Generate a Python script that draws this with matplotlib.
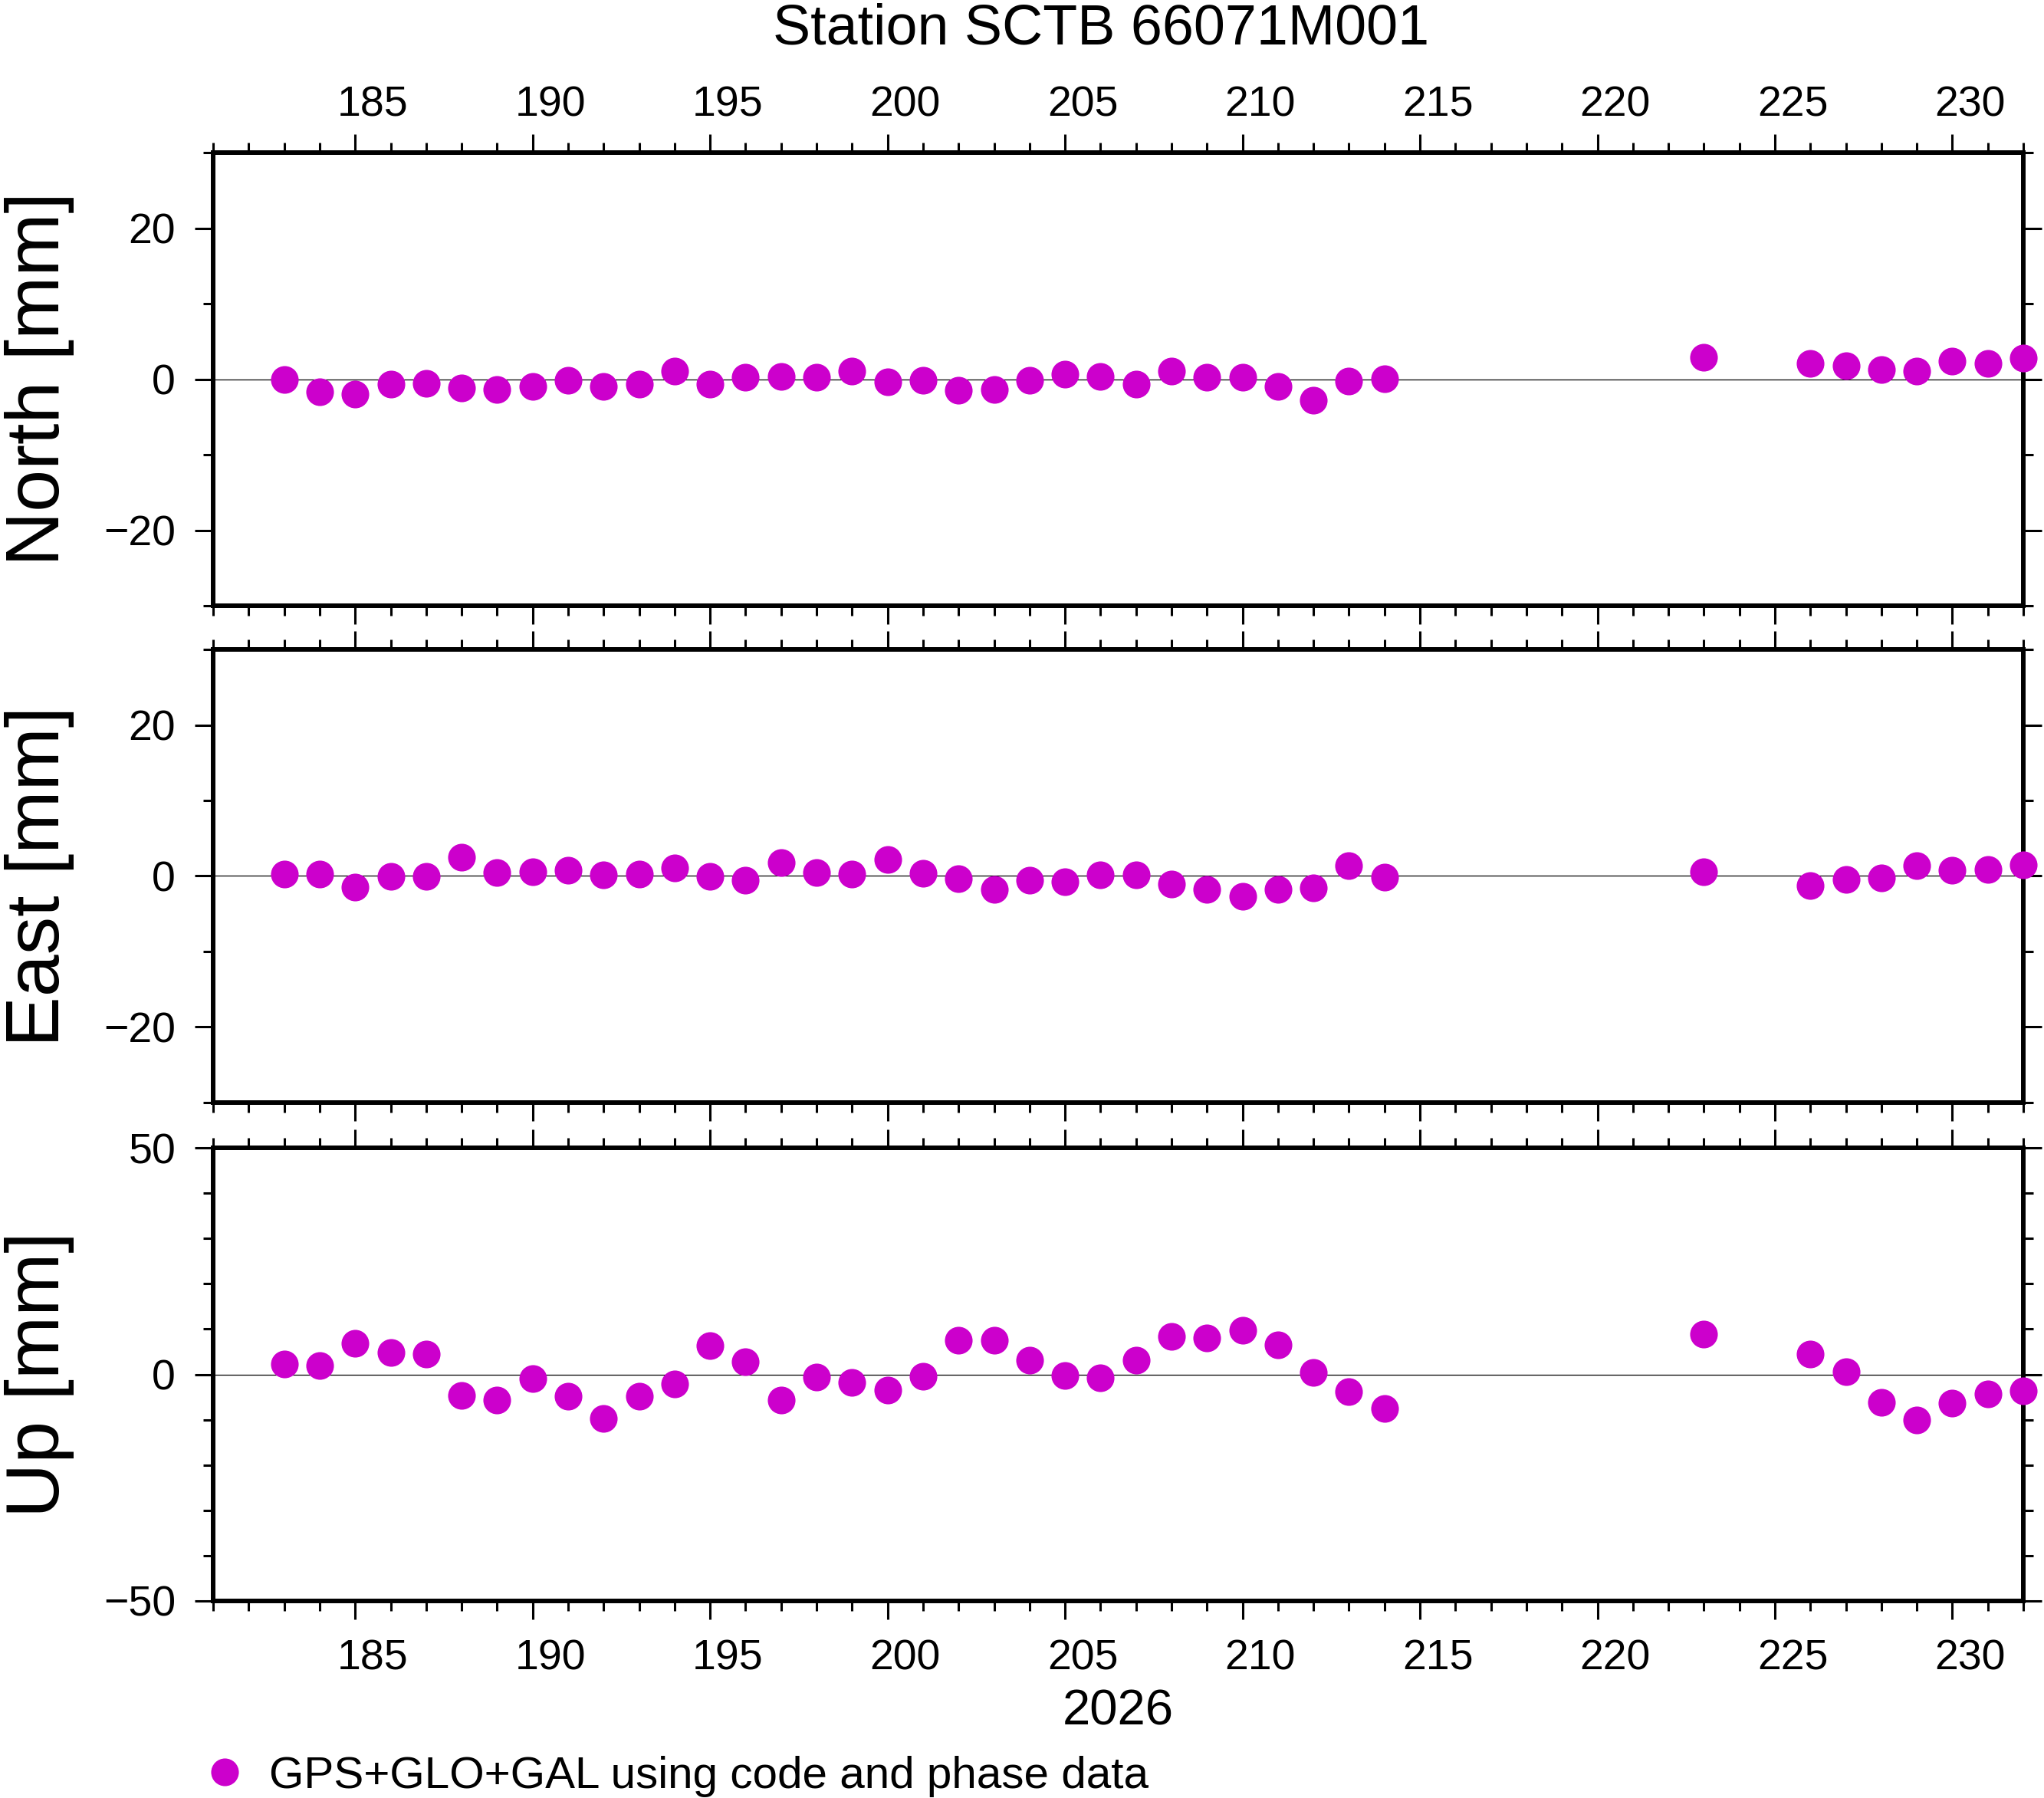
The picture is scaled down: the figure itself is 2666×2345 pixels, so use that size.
import numpy as np
import matplotlib
matplotlib.use("Agg")
import matplotlib.pyplot as plt
from matplotlib.ticker import FixedLocator, MultipleLocator
from matplotlib.transforms import ScaledTranslation

plt.rcParams['font.family'] = ['Liberation Sans', 'DejaVu Sans']

# day of year 2026
days = [183, 184, 185, 186, 187, 188, 189, 190, 191, 192, 193, 194, 195, 196,
        197, 198, 199, 200, 201, 202, 203, 204, 205, 206, 207, 208, 209, 210,
        211, 212, 213, 214, 223, 226, 227, 228, 229, 230, 231, 232]

north = [0.0, -1.7, -2.0, -0.7, -0.6, -1.2, -1.4, -1.0, -0.1, -1.0, -0.7, 1.1,
         -0.7, 0.3, 0.4, 0.3, 1.1, -0.3, -0.1, -1.5, -1.4, -0.1, 0.7, 0.4,
         -0.7, 1.1, 0.3, 0.3, -1.0, -2.8, -0.2, 0.1, 2.9, 2.1, 1.8, 1.3, 1.1,
         2.4, 2.1, 2.8]

east = [0.3, 0.3, -1.5, -0.1, -0.1, 2.5, 0.5, 0.6, 0.8, 0.2, 0.3, 1.1, -0.1,
        -0.6, 1.8, 0.5, 0.3, 2.2, 0.4, -0.4, -1.8, -0.6, -0.8, 0.1, 0.1, -1.1,
        -1.8, -2.7, -1.8, -1.6, 1.4, -0.2, 0.6, -1.3, -0.5, -0.3, 1.4, 0.8,
        0.9, 1.5]

up = [2.3, 1.9, 6.8, 4.9, 4.5, -4.7, -5.7, -0.9, -4.9, -9.7, -4.9, -2.1, 6.3,
      2.8, -5.6, -0.6, -1.7, -3.5, -0.4, 7.6, 7.6, 3.1, -0.2, -0.7, 3.2, 8.4,
      8.0, 9.7, 6.6, 0.5, -3.8, -7.6, 8.9, 4.5, 0.6, -6.2, -10.1, -6.3, -4.3,
      -3.6]

components = ["North [mm]", "East [mm]", "Up [mm]"]
ylims = [30, 30, 50]
ymajor = [20, 20, 50]
xmajor = list(range(185, 231, 5))
legend_label = "GPS+GLO+GAL using code and phase data"
title = "Station SCTB 66071M001"
year = "2026"

col = '#CC00CC'

fig = plt.figure(figsize=(26.66, 23.45), dpi=100)
left, width, height = 0.1043, 0.8856, 0.2520
bottoms = [0.6631, 0.3868, 0.1096]

# day labels sit in the middle of the day
off = ScaledTranslation(0.231, 0, fig.dpi_scale_trans)

for i, (vals, name) in enumerate(zip([north, east, up], components)):
    ax = fig.add_axes([left, bottoms[i], width, height])
    ax.axhline(0, color='black', lw=0.9, zorder=1)
    line, = ax.plot(days, vals, 'o', color=col, markersize=26, mec='none',
                    clip_on=False, zorder=5, label=legend_label)
    ax.set_xlim(181, 232)
    lim = ylims[i]
    ax.set_ylim(-lim, lim)
    ax.yaxis.set_major_locator(MultipleLocator(ymajor[i]))
    ax.yaxis.set_minor_locator(MultipleLocator(10))
    ax.xaxis.set_major_locator(FixedLocator(xmajor))
    ax.xaxis.set_minor_locator(MultipleLocator(1))
    for s in ax.spines.values():
        s.set_linewidth(4.3)
    ax.tick_params(which='both', direction='out', width=2.2,
                   top=True, bottom=True, left=True, right=True)
    ax.tick_params(which='major', length=17.3)
    ax.tick_params(which='minor', length=9.4)
    ax.tick_params(axis='y', labelsize=40, pad=18)
    ax.set_ylabel(name, fontsize=71)
    ax.yaxis.set_label_coords(-0.0767, 0.5)
    if i == 0:
        ax.tick_params(axis='x', labelsize=40, pad=8,
                       labeltop=True, labelbottom=False)
    elif i == 1:
        ax.tick_params(axis='x', labeltop=False, labelbottom=False)
    else:
        ax.tick_params(axis='x', labelsize=40, pad=18,
                       labeltop=False, labelbottom=True)
        ax.set_xlabel(year, fontsize=47, labelpad=10)
    for t in ax.xaxis.get_major_ticks():
        t.label1.set_transform(t.label1.get_transform() + off)
        t.label2.set_transform(t.label2.get_transform() + off)

fig.text(0.5386, 1 - 57 / 2345, title, fontsize=53, ha='center', va='baseline')

fig.legend(handles=[line], loc='center left', bbox_to_anchor=(0.099, 0.012),
           frameon=False, fontsize=42, handlelength=1.0, handletextpad=0.5,
           borderpad=0, borderaxespad=0, markerscale=1.0)

fig.savefig("out.png", dpi=100)
